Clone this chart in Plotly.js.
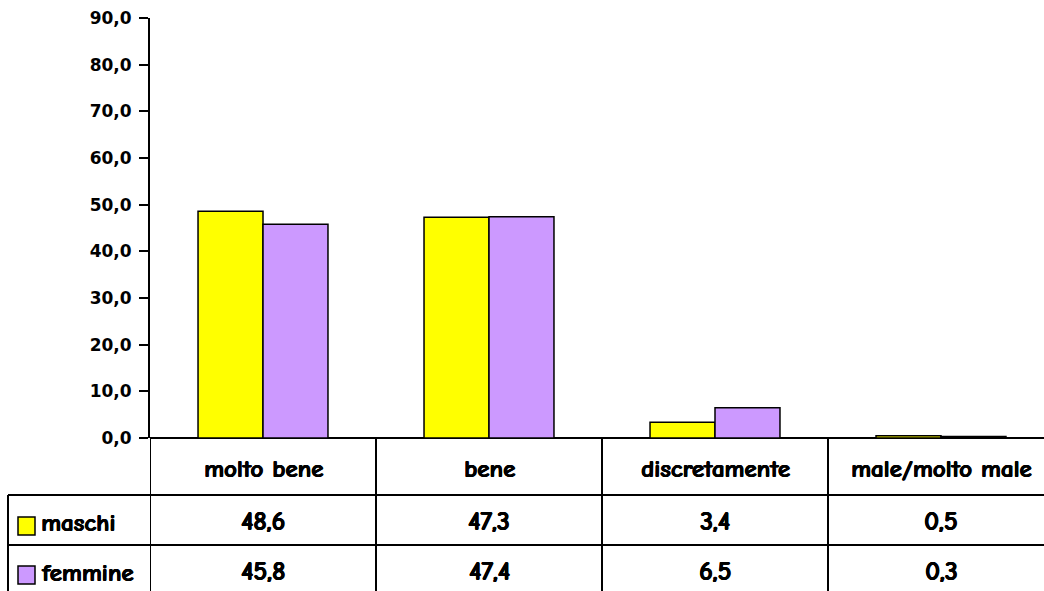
<!DOCTYPE html>
<html>
<head>
<meta charset="utf-8">
<script src="https://cdn.plot.ly/plotly-3.0.1.min.js"></script>
<style>html,body{margin:0;padding:0;background:#fff;}#chart{width:1044px;height:591px;}</style>
</head>
<body>
<div id="chart"></div>
<script>
var categories = ["molto bene", "bene", "discretamente", "male/molto male"];
var seriesNames = ["maschi", "femmine"];
var maschi = [48.6, 47.3, 3.4, 0.5];
var femmine = [45.8, 47.4, 6.5, 0.3];
var yTickVals = [0, 10, 20, 30, 40, 50, 60, 70, 80, 90];

var colors = ["#FFFF00", "#CC99FF"];
var seriesValues = [maschi, femmine];
var tableFont = "Comic Neue, Comic Sans MS, DejaVu Sans, sans-serif";
var fakeBold = "0.7px 0 0 #000, -0.3px 0 0 #000, 0 0.3px 0 #000";

var W = 1044, H = 591;
var mL = 150, mR = 0, mT = 18, mB = 153;
var plotW = W - mL - mR, plotH = H - mT - mB;
function py(p) { return (H - mB - p) / plotH; }   // pixel row -> paper y
function px(p) { return (p - mL) / plotW; }        // pixel col -> paper x

var xIdx = categories.map(function (c, i) { return i; });

var traces = seriesValues.map(function (vals, s) {
  return {
    type: "bar",
    name: seriesNames[s],
    x: xIdx,
    y: vals,
    marker: { color: colors[s], line: { color: "#000", width: 1.5 } },
    hoverinfo: "y"
  };
});

function fmt(v) { return v.toFixed(1).replace(".", ","); }

var shapes = [];
var annotations = [];
var lineStyle = { color: "#000", width: 2 };

// horizontal table lines
[495, 545, 597].forEach(function (p) {
  shapes.push({ type: "line", xref: "paper", yref: "paper", x0: px(8), x1: 1.02, y0: py(p), y1: py(p), line: lineStyle });
});
// left border of table
shapes.push({ type: "line", xref: "paper", yref: "paper", x0: px(8), x1: px(8), y0: py(495), y1: py(600), line: lineStyle });
// category boundaries
for (var i = 0; i <= categories.length; i++) {
  shapes.push({ type: "line", xref: "x", yref: "paper", x0: i - 0.5, x1: i - 0.5, y0: 0, y1: py(600), line: lineStyle });
}

var hdrFont = { family: tableFont, size: 25, color: "#000", weight: "bold", shadow: fakeBold };
var valFont = { family: tableFont, size: 26, color: "#000", weight: "bold", shadow: fakeBold };
// header labels
categories.forEach(function (c, i) {
  annotations.push({ xref: "x", yref: "paper", x: i, y: py(468), text: c, showarrow: false,
    xanchor: "center", yanchor: "middle", font: hdrFont });
});
// rows
var rowCenters = [522, 572];
var rowTops = [517, 566];
seriesValues.forEach(function (vals, s) {
  vals.forEach(function (v, i) {
    annotations.push({ xref: "x", yref: "paper", x: i, y: py(rowCenters[s]), text: fmt(v), showarrow: false,
      xanchor: "center", yanchor: "middle", font: valFont });
  });
  annotations.push({ xref: "paper", yref: "paper", x: px(39), y: py(rowCenters[s]), text: seriesNames[s], showarrow: false,
    xanchor: "left", yanchor: "middle", font: hdrFont });
  shapes.push({ type: "rect", xref: "paper", yref: "paper", x0: px(18), x1: px(35), y0: py(rowTops[s]), y1: py(rowTops[s] + 18),
    fillcolor: colors[s], line: { color: "#000", width: 1.5 } });
});

var layout = {
  width: W, height: H,
  margin: { l: mL, r: mR, t: mT, b: mB, pad: 0 },
  paper_bgcolor: "#fff", plot_bgcolor: "#fff",
  separators: ",.",
  barmode: "group",
  bargap: 0.425,
  bargroupgap: 0,
  showlegend: false,
  xaxis: {
    range: [-0.5, -0.5 + plotW / 226],
    showticklabels: false, ticks: "", showgrid: false, zeroline: false,
    showline: false, fixedrange: true
  },
  yaxis: {
    range: [0, 90], tickvals: yTickVals, tickformat: ".1f",
    ticks: "outside", ticklen: 9, tickwidth: 2, tickcolor: "#000",
    showline: true, linewidth: 2, linecolor: "#000",
    showgrid: false, zeroline: true, zerolinecolor: "#000", zerolinewidth: 2,
    tickfont: { family: "Verdana, DejaVu Sans, sans-serif", size: 17, color: "#000", weight: "bold" },
    ticklabelstandoff: 4, fixedrange: true
  },
  shapes: shapes,
  annotations: annotations
};

Plotly.newPlot("chart", traces, layout, { displayModeBar: false, staticPlot: true });
</script>
</body>
</html>
